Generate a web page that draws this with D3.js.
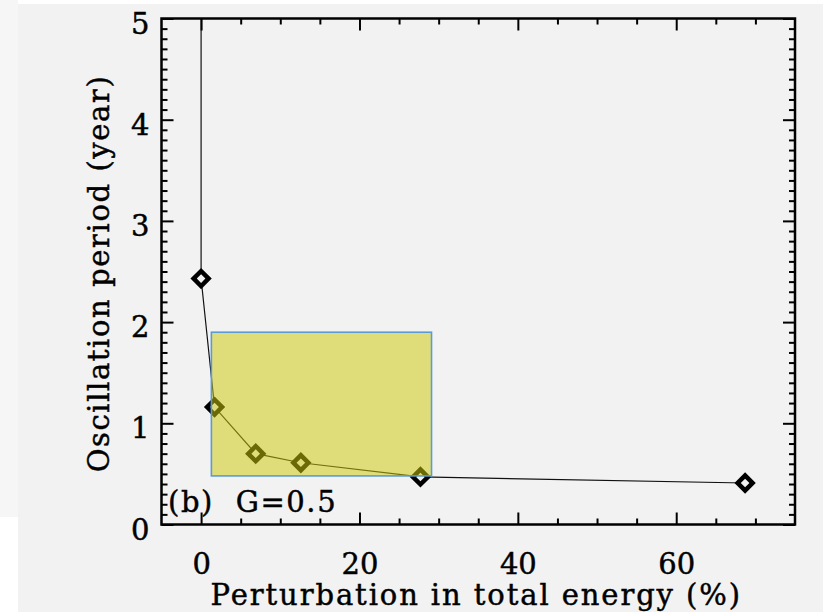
<!DOCTYPE html>
<html>
<head>
<meta charset="utf-8">
<script src="https://cdn.jsdelivr.net/npm/d3@7"></script>
<style>
  html, body { margin: 0; padding: 0; background: #ffffff; }
  svg { display: block; }
  text { font-family: "DejaVu Serif", serif; fill: #000; stroke: #000; stroke-width: 0.45px; }
</style>
</head>
<body>
<svg id="chart" width="832" height="613"></svg>
<script>
// Oscillation period versus perturbation in total energy, G = 0.5
const energyPct = [0, 0, 1.7, 6.9, 12.6, 27.7, 68.7];
const periodYr  = [8.0, 2.43, 1.16, 0.70, 0.61, 0.47, 0.41];

const xMajorTicks = [0, 20, 40, 60];
const yMajorTicks = [0, 1, 2, 3, 4, 5];

const xTitle = "Perturbation in total energy (%)";
const yTitle = "Oscillation period (year)";
const panelTag = "(b)  G=0.5";

// highlighted region, in data units
const highlightX = [1.3, 29.1];
const highlightY = [0.48, 1.9];

const W = 832, H = 613;
const plot = { left: 161.5, right: 795, top: 18.5, bottom: 524.5 };
const FONT = 29;

const svg = d3.select("#chart");

// page background
svg.append("rect").attr("x", 0).attr("y", 0).attr("width", W).attr("height", H).attr("fill", "#ffffff");
svg.append("rect").attr("x", 0).attr("y", 0).attr("width", 18).attr("height", 517).attr("fill", "#f6f6f6");
svg.append("rect").attr("x", 18).attr("y", 4).attr("width", 805).attr("height", 608).attr("fill", "#f2f2f2");

const x = d3.scaleLinear().domain([-5, 75]).range([plot.left, plot.right]);
const y = d3.scaleLinear().domain([0, 5]).range([plot.bottom, plot.top]);

svg.append("defs").append("clipPath").attr("id", "plotClip")
  .append("rect")
  .attr("x", plot.left).attr("y", plot.top)
  .attr("width", plot.right - plot.left).attr("height", plot.bottom - plot.top);

const pts = energyPct.map((e, i) => ({ e, p: periodYr[i] }));

const dataG = svg.append("g").attr("clip-path", "url(#plotClip)");

dataG.append("path")
  .datum(pts)
  .attr("fill", "none")
  .attr("stroke", "#111")
  .attr("stroke-width", 1.2)
  .attr("d", d3.line().x(d => x(d.e)).y(d => y(d.p)));

const diamond = d3.symbol().type(d3.symbolSquare).size(112);
dataG.selectAll("path.marker")
  .data(pts)
  .join("path")
  .attr("class", "marker")
  .attr("d", diamond)
  .attr("transform", d => `translate(${x(d.e)},${y(d.p)}) rotate(45)`)
  .attr("fill", "#f2f2f2")
  .attr("stroke", "#000")
  .attr("stroke-width", 4.5);

// axes: inward ticks on all four sides
const xMinor = d3.range(-5, 76, 5).filter(v => v > -5 && v < 75 && !xMajorTicks.includes(v));
const yMinor = d3.range(1, 50).map(v => v / 10).filter(v => !yMajorTicks.includes(v));

function styleAxis(g) {
  g.select(".domain").remove();
  g.selectAll(".tick line").attr("stroke", "#000").attr("stroke-width", 2);
  g.selectAll(".tick text").attr("font-size", FONT).attr("fill", "#000");
}

svg.append("g").attr("transform", `translate(0,${plot.bottom})`)
  .call(d3.axisBottom(x).tickValues(xMajorTicks).tickSizeInner(-12).tickSizeOuter(0).tickPadding(29).tickFormat(d3.format("d")))
  .call(styleAxis);
svg.append("g").attr("transform", `translate(0,${plot.bottom})`)
  .call(d3.axisBottom(x).tickValues(xMinor).tickSizeInner(-6).tickSizeOuter(0).tickFormat(""))
  .call(styleAxis);
svg.append("g").attr("transform", `translate(0,${plot.top})`)
  .call(d3.axisTop(x).tickValues(xMajorTicks).tickSizeInner(-12).tickSizeOuter(0).tickFormat(""))
  .call(styleAxis);
svg.append("g").attr("transform", `translate(0,${plot.top})`)
  .call(d3.axisTop(x).tickValues(xMinor).tickSizeInner(-6).tickSizeOuter(0).tickFormat(""))
  .call(styleAxis);

const yLeft = svg.append("g").attr("transform", `translate(${plot.left},0)`)
  .call(d3.axisLeft(y).tickValues(yMajorTicks).tickSizeInner(-12).tickSizeOuter(0).tickPadding(12).tickFormat(d3.format("d")))
  .call(styleAxis);
yLeft.selectAll(".tick text").attr("dy", "0.5em");
svg.append("g").attr("transform", `translate(${plot.left},0)`)
  .call(d3.axisLeft(y).tickValues(yMinor).tickSizeInner(-6).tickSizeOuter(0).tickFormat(""))
  .call(styleAxis);
svg.append("g").attr("transform", `translate(${plot.right},0)`)
  .call(d3.axisRight(y).tickValues(yMajorTicks).tickSizeInner(-12).tickSizeOuter(0).tickFormat(""))
  .call(styleAxis);
svg.append("g").attr("transform", `translate(${plot.right},0)`)
  .call(d3.axisRight(y).tickValues(yMinor).tickSizeInner(-6).tickSizeOuter(0).tickFormat(""))
  .call(styleAxis);

// frame
svg.append("rect")
  .attr("x", plot.left).attr("y", plot.top)
  .attr("width", plot.right - plot.left).attr("height", plot.bottom - plot.top)
  .attr("fill", "none").attr("stroke", "#000").attr("stroke-width", 2.5);

// titles
svg.append("text")
  .attr("x", (plot.left + plot.right) / 2 - 2).attr("y", 605)
  .attr("text-anchor", "middle").attr("font-size", FONT)
  .attr("letter-spacing", 1.9)
  .text(xTitle);

svg.append("text")
  .attr("transform", `translate(109,${(plot.top + plot.bottom) / 2 + 2}) rotate(-90)`)
  .attr("text-anchor", "middle").attr("font-size", FONT)
  .attr("letter-spacing", 1.6)
  .text(yTitle);

svg.append("text")
  .attr("x", 168).attr("y", 512)
  .attr("font-size", FONT)
  .attr("letter-spacing", 1.6)
  .attr("xml:space", "preserve")
  .style("white-space", "pre")
  .text(panelTag);

// highlighted region
svg.append("rect")
  .attr("x", x(highlightX[0])).attr("y", y(highlightY[1]))
  .attr("width", x(highlightX[1]) - x(highlightX[0]))
  .attr("height", y(highlightY[0]) - y(highlightY[1]))
  .attr("fill", "rgb(206,202,10)").attr("fill-opacity", 0.52)
  .attr("stroke", "#5b9bd5").attr("stroke-width", 1.6);
</script>
</body>
</html>
